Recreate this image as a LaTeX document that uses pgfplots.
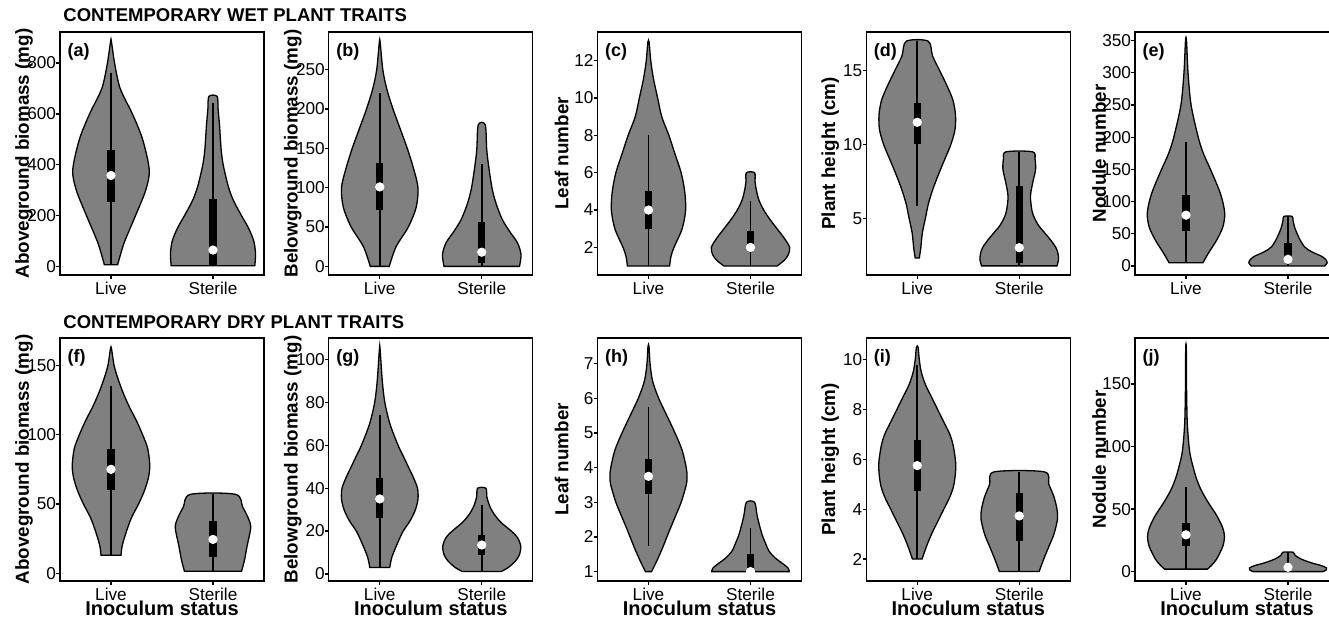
\documentclass[border=0pt]{standalone}
\usepackage{fontspec}
\setmainfont{Liberation Sans}
\usepackage{pgfplots}
\pgfplotsset{compat=1.18}
\usepackage{pgfplotstable}

\definecolor{vgray}{RGB}{128,128,128}

\pgfplotsset{
  panel/.style={
    scale only axis, width=102pt, height=121.5pt,
    xmin=0.5, xmax=2.5, xtick={1,2}, xticklabels={Live,Sterile},
    tick pos=left, tick align=outside, major tick length=1.8pt,
    every tick/.style={black, line width=0.6pt},
    axis line style={line width=0.7pt},
    ticklabel style={font=\fontsize{8.6}{10}\selectfont, inner sep=0pt},
    xticklabel style={yshift=-1.7pt},
    /pgf/number format/assume math mode=true,
    /pgf/number format/fixed,
    scaled y ticks=false,
    ylabel style={at={(axis description cs:-0.176,0.5)}, anchor=center,
      font=\bfseries\fontsize{9.4}{11}\selectfont},
    xlabel style={at={(axis description cs:0.5,0)}, anchor=north, yshift=-9.6pt,
      inner sep=0pt, font=\bfseries\fontsize{10}{12}\selectfont},
  },
}

% turn a (y, w) half-width table into a closed outline: right side up, left side down
\newcommand{\mkviolin}[1]{%
  \pgfplotstablesort[sort key=y, sort cmp={float >}]{\vtmp}{#1}%
  \pgfplotstablecreatecol[create col/expr={\thisrow{w}}]{d}{#1}%
  \pgfplotstablecreatecol[create col/expr={-\thisrow{w}}]{d}{\vtmp}%
  \pgfplotstablevertcat{#1}{\vtmp}%
}
% outline table, position
\newcommand{\violin}[2]{%
  \addplot[fill=vgray, draw=black, line width=0.65pt, smooth]
    table[x expr=#2+\thisrow{d}, y=y] {#1} -- cycle;
}
% position, whisker low, whisker high, q1, q3, median
\newcommand{\boxstat}[6]{%
  \addplot[black, line width=0.8pt] coordinates {(#1,#2) (#1,#3)};
  \addplot[black, line width=3.6pt] coordinates {(#1,#4) (#1,#5)};
  \addplot[only marks, mark=*, mark size=2.1pt, white] coordinates {(#1,#6)};
}
\newcommand{\plabel}[1]{\node[anchor=north west, inner sep=0pt,
  font=\bfseries\fontsize{9}{11}\selectfont] at (rel axis cs:0.035,0.955) {#1};}

% ---- wet: aboveground biomass
\pgfplotstableread{
y w
7 0.065
50 0.095
100 0.135
200 0.24
300 0.34
380 0.375
500 0.31
600 0.21
700 0.09
800 0.035
885 0.004
}\vaL
\pgfplotstableread{
y w
3 0.41
50 0.417
100 0.40
150 0.35
200 0.28
260 0.20
315 0.15
400 0.10
460 0.08
550 0.065
620 0.05
669 0.04
}\vaS
% ---- wet: belowground biomass
\pgfplotstableread{
y w
0 0.093
25 0.16
50 0.28
75 0.357
100 0.375
125 0.33
150 0.27
175 0.20
200 0.13
225 0.07
250 0.03
285 0.004
}\vbL
\pgfplotstableread{
y w
0 0.37
15 0.385
30 0.35
45 0.27
60 0.20
80 0.14
100 0.10
130 0.065
150 0.048
180 0.034
}\vbS
% ---- wet: leaf number
\pgfplotstableread{
y w
1 0.207
1.5 0.22
2 0.25
3 0.33
4 0.364
5 0.355
6 0.32
7 0.26
8 0.20
9 0.13
10 0.09
11 0.05
12 0.022
13 0.006
}\vcL
\pgfplotstableread{
y w
1 0.26
1.3 0.33
1.6 0.37
2 0.384
2.5 0.33
3 0.26
3.5 0.19
4 0.13
4.5 0.085
5 0.06
5.5 0.045
6 0.04
}\vcS
% ---- wet: plant height
\pgfplotstableread{
y w
2.3 0.02
3 0.035
4 0.05
5 0.08
6 0.11
7 0.155
8 0.21
9 0.27
10 0.33
11 0.37
12 0.375
13 0.35
14 0.29
15 0.22
16 0.15
17 0.107
}\vdL
\pgfplotstableread{
y w
1.77 0.37
2.2 0.385
2.6 0.38
3 0.36
3.5 0.31
4 0.25
4.5 0.19
5 0.15
5.5 0.125
6.5 0.11
7.5 0.135
8.3 0.16
9 0.155
9.5 0.13
}\vdS
% ---- wet: nodule number
\pgfplotstableread{
y w
5 0.166
20 0.22
40 0.30
60 0.36
80 0.38
100 0.36
120 0.32
150 0.24
175 0.17
200 0.12
250 0.05
300 0.02
350 0.005
}\veL
\pgfplotstableread{
y w
0 0.36
5 0.384
10 0.37
15 0.33
20 0.26
25 0.20
30 0.16
40 0.12
50 0.09
60 0.065
70 0.05
77 0.04
}\veS
% ---- dry: aboveground biomass
\pgfplotstableread{
y w
13 0.098
20 0.11
30 0.15
40 0.20
50 0.27
60 0.33
70 0.37
78 0.38
90 0.36
100 0.31
110 0.25
120 0.18
130 0.12
140 0.07
150 0.03
162 0.005
}\vfL
\pgfplotstableread{
y w
1.5 0.28
10 0.31
20 0.335
33 0.37
40 0.345
48 0.29
57 0.22
}\vfS
% ---- dry: belowground biomass
\pgfplotstableread{
y w
3 0.098
8 0.12
15 0.18
20 0.23
25 0.30
30 0.35
35 0.375
40 0.37
45 0.33
50 0.28
55 0.23
60 0.18
70 0.10
80 0.05
90 0.025
105 0.003
}\vgL
\pgfplotstableread{
y w
1.1 0.19
3 0.26
6 0.33
9 0.37
13 0.382
17 0.35
20 0.29
24 0.19
28 0.12
32 0.075
36 0.05
40 0.04
}\vgS
% ---- dry: leaf number
\pgfplotstableread{
y w
1 0.03
1.3 0.08
1.7 0.14
2 0.18
2.5 0.25
3 0.32
3.5 0.37
3.75 0.378
4 0.37
4.5 0.33
5 0.26
5.5 0.18
6 0.10
6.5 0.04
7 0.015
7.5 0.005
}\vhL
\pgfplotstableread{
y w
1 0.38
1.1 0.37
1.2 0.33
1.4 0.24
1.6 0.18
1.8 0.15
2.1 0.11
2.6 0.066
3 0.04
}\vhS
% ---- dry: plant height
\pgfplotstableread{
y w
2 0.047
2.5 0.09
3 0.14
3.5 0.20
4 0.26
4.5 0.32
5 0.36
5.75 0.378
6.5 0.355
7 0.32
7.5 0.26
8 0.20
8.5 0.14
9 0.08
9.5 0.04
10 0.02
10.5 0.008
}\viL
\pgfplotstableread{
y w
1.5 0.195
2 0.24
2.5 0.29
3 0.34
3.6 0.375
4 0.37
4.5 0.34
5 0.29
5.5 0.245
}\viS
% ---- dry: nodule number
\pgfplotstableread{
y w
2 0.21
5 0.25
10 0.30
20 0.36
28 0.377
35 0.36
45 0.30
55 0.22
65 0.15
75 0.10
90 0.05
100 0.03
120 0.012
150 0.005
179 0.003
}\vjL
\pgfplotstableread{
y w
0 0.34
1 0.37
3 0.377
5 0.32
7 0.23
10 0.13
13 0.07
15.5 0.05
}\vjS

\mkviolin{\vaL}\mkviolin{\vaS}\mkviolin{\vbL}\mkviolin{\vbS}
\mkviolin{\vcL}\mkviolin{\vcS}\mkviolin{\vdL}\mkviolin{\vdS}
\mkviolin{\veL}\mkviolin{\veS}\mkviolin{\vfL}\mkviolin{\vfS}
\mkviolin{\vgL}\mkviolin{\vgS}\mkviolin{\vhL}\mkviolin{\vhS}
\mkviolin{\viL}\mkviolin{\viS}\mkviolin{\vjL}\mkviolin{\vjS}

\begin{document}
\begin{tikzpicture}

\node[anchor=base west, inner sep=0pt, font=\bfseries\fontsize{9.25}{11}\selectfont]
  at (31.5pt,301pt) {CONTEMPORARY WET PLANT TRAITS};
\node[anchor=base west, inner sep=0pt, font=\bfseries\fontsize{9.25}{11}\selectfont]
  at (31.5pt,147.5pt) {CONTEMPORARY DRY PLANT TRAITS};

% ================= top row =================
\begin{axis}[panel, at={(30pt,174pt)}, ymin=-33, ymax=922, ytick={0,200,...,800},
  ylabel={Aboveground biomass (mg)}]
\violin{\vaL}{1}
\violin{\vaS}{2}
\boxstat{1}{7}{760}{255}{460}{358}
\boxstat{2}{3}{643}{5}{265}{65}
\plabel{(a)}
\end{axis}

\begin{axis}[panel, at={(164.375pt,174pt)}, ymin=-11, ymax=298, ytick={0,50,...,250},
  ylabel={Belowground biomass (mg)}]
\violin{\vbL}{1}
\violin{\vbS}{2}
\boxstat{1}{0}{220}{72}{131}{101}
\boxstat{2}{0}{130}{4}{56}{18}
\plabel{(b)}
\end{axis}

\begin{axis}[panel, at={(298.75pt,174pt)}, ymin=0.52, ymax=13.54, ytick={2,4,...,12},
  ylabel={Leaf number}]
\violin{\vcL}{1}
\violin{\vcS}{2}
\boxstat{1}{1}{8}{3}{5}{4}
\boxstat{2}{1}{4.5}{2}{2.9}{2}
\plabel{(c)}
\end{axis}

\begin{axis}[panel, at={(433.125pt,174pt)}, ymin=1.15, ymax=17.62, ytick={5,10,15},
  ylabel={Plant height (cm)}]
\violin{\vdL}{1}
\violin{\vdS}{2}
\boxstat{1}{5.84}{17}{10}{12.8}{11.5}
\boxstat{2}{1.77}{9.5}{1.95}{7.15}{3}
\plabel{(d)}
\end{axis}

\begin{axis}[panel, at={(567.5pt,174pt)}, ymin=-14, ymax=363.5, ytick={0,50,...,350},
  ylabel={Nodule number}]
\violin{\veL}{1}
\violin{\veS}{2}
\boxstat{1}{5}{193}{55}{110}{79}
\boxstat{2}{0}{77}{12}{35}{10.4}
\plabel{(e)}
\end{axis}

% ================= bottom row =================
\begin{axis}[panel, at={(30pt,21pt)}, ymin=-5.5, ymax=169.7, ytick={0,50,100,150},
  ylabel={Aboveground biomass (mg)}, xlabel={Inoculum status}]
\violin{\vfL}{1}
\violin{\vfS}{2}
\boxstat{1}{13}{135}{60}{90}{75}
\boxstat{2}{2}{57}{12}{38}{24.5}
\plabel{(f)}
\end{axis}

\begin{axis}[panel, at={(164.375pt,21pt)}, ymin=-3.3, ymax=110.1, ytick={0,20,...,100},
  ylabel={Belowground biomass (mg)}, xlabel={Inoculum status}]
\violin{\vgL}{1}
\violin{\vgS}{2}
\boxstat{1}{3}{74}{26}{45}{35}
\boxstat{2}{1.1}{32}{9}{18}{13.5}
\plabel{(g)}
\end{axis}

\begin{axis}[panel, at={(298.75pt,21pt)}, ymin=0.73, ymax=7.74, ytick={1,...,7},
  ylabel={Leaf number}, xlabel={Inoculum status}]
\violin{\vhL}{1}
\violin{\vhS}{2}
\boxstat{1}{1.75}{5.75}{3.25}{4.25}{3.75}
\boxstat{2}{1}{2.25}{1}{1.5}{1}
\plabel{(h)}
\end{axis}

\begin{axis}[panel, at={(433.125pt,21pt)}, ymin=1.12, ymax=10.87, ytick={2,4,...,10},
  ylabel={Plant height (cm)}, xlabel={Inoculum status}]
\violin{\viL}{1}
\violin{\viS}{2}
\boxstat{1}{2}{9.8}{4.73}{6.76}{5.75}
\boxstat{2}{1.5}{5.5}{2.74}{4.64}{3.73}
\plabel{(i)}
\end{axis}

\begin{axis}[panel, at={(567.5pt,21pt)}, ymin=-7.5, ymax=186.8, ytick={0,50,100,150},
  ylabel={Nodule number}, xlabel={Inoculum status}]
\violin{\vjL}{1}
\violin{\vjS}{2}
\boxstat{1}{2}{68}{20.5}{39}{29.4}
\boxstat{2}{0}{15.5}{1}{6}{3.5}
\plabel{(j)}
\end{axis}

\pgfresetboundingbox
\useasboundingbox (0,0) rectangle (664.5pt,311.5pt);
\end{tikzpicture}
\end{document}
